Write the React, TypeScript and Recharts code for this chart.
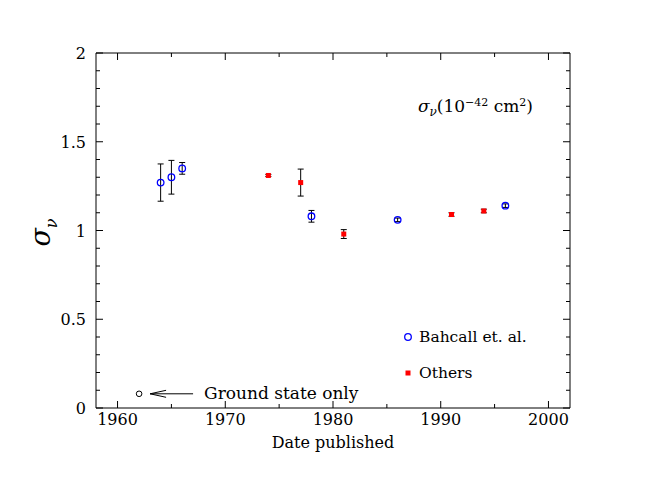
import React from 'react';
import {
  ScatterChart,
  Scatter,
  XAxis,
  YAxis,
  ErrorBar,
  Legend,
  Label,
} from 'recharts';

// Bahcall et al. (open circles)
const bahcallYears = [1964, 1965, 1966, 1978, 1986, 1996];
const bahcallSigma = [1.27, 1.3, 1.35, 1.08, 1.06, 1.14];
const bahcallErr = [0.105, 0.095, 0.033, 0.033, 0.01, 0.01];

// Others (filled squares)
const otherYears = [1974, 1977, 1981, 1991, 1994];
const otherSigma = [1.31, 1.27, 0.98, 1.09, 1.11];
const otherErr = [0.006, 0.076, 0.025, 0.01, 0.01];

// ground state only point
const groundYears = [1962];
const groundSigma = [0.08];

const xTicks = [1960, 1965, 1970, 1975, 1980, 1985, 1990, 1995, 2000];
const yTicks = [0, 0.1, 0.2, 0.3, 0.4, 0.5, 0.6, 0.7, 0.8, 0.9, 1, 1.1, 1.2, 1.3, 1.4, 1.5, 1.6, 1.7, 1.8, 1.9, 2];

const bahcall = bahcallYears.map((y, i) => ({ year: y, sigma: bahcallSigma[i], err: bahcallErr[i] }));
const others = otherYears.map((y, i) => ({ year: y, sigma: otherSigma[i], err: otherErr[i] }));
const ground = groundYears.map((y, i) => ({ year: y, sigma: groundSigma[i] }));

const FONT = '"DejaVu Serif", serif';

const isMajorX = (v: number) => v % 10 === 0;
const isMajorY = (v: number) => Math.abs(v * 2 - Math.round(v * 2)) < 1e-6;

const BottomTick = (props: any) => {
  const { x, y, payload } = props;
  const major = isMajorX(payload.value);
  return (
    <g>
      <line x1={x} y1={y} x2={x} y2={y - (major ? 7 : 4)} stroke="#000" />
      {major && (
        <text x={x} y={y + 17} textAnchor="middle" fontSize={16} fontFamily={FONT} fill="#000">
          {payload.value}
        </text>
      )}
    </g>
  );
};

const TopTick = (props: any) => {
  const { x, y, payload } = props;
  const major = isMajorX(payload.value);
  return <line x1={x} y1={y} x2={x} y2={y + (major ? 7 : 4)} stroke="#000" />;
};

const LeftTick = (props: any) => {
  const { x, y, payload } = props;
  const major = isMajorY(payload.value);
  return (
    <g>
      <line x1={x} y1={y} x2={x + (major ? 7 : 4)} y2={y} stroke="#000" />
      {major && (
        <text x={x - 10} y={y + 6} textAnchor="end" fontSize={16} fontFamily={FONT} fill="#000">
          {String(Math.round(payload.value * 10) / 10)}
        </text>
      )}
    </g>
  );
};

const RightTick = (props: any) => {
  const { x, y, payload } = props;
  const major = isMajorY(payload.value);
  return <line x1={x} y1={y} x2={x - (major ? 7 : 4)} y2={y} stroke="#000" />;
};

const OpenCircle = (props: any) => (
  <circle cx={props.cx} cy={props.cy} r={3.3} fill="none" stroke="#0000ff" strokeWidth={1.3} />
);

const RedSquare = (props: any) => (
  <rect x={props.cx - 2.5} y={props.cy - 2.5} width={5} height={5} fill="#ff0000" />
);

const NoShape = () => <g />;

const GroundMark = (props: any) => {
  const { cx, cy } = props;
  const tip = cx + 11;
  return (
    <g>
      <circle cx={cx} cy={cy} r={2.8} fill="none" stroke="#000" strokeWidth={1} />
      <line x1={tip} y1={cy} x2={cx + 54} y2={cy} stroke="#000" />
      <polyline points={`${tip + 16},${cy - 3.5} ${tip},${cy} ${tip + 16},${cy + 3.5}`} fill="none" stroke="#000" />
      <text x={cx + 65} y={cy + 5} fontSize={17} fontFamily={FONT} fill="#000">
        Ground state only
      </text>
    </g>
  );
};

const LegendBox = () => (
  <div style={{ fontFamily: FONT, fontSize: 15.5, color: '#000', textAlign: 'left' }}>
    <div style={{ display: 'flex', alignItems: 'center', height: 20 }}>
      <svg width={12} height={12} style={{ marginRight: 5 }}>
        <circle cx={6} cy={6} r={3.3} fill="none" stroke="#0000ff" strokeWidth={1.3} />
      </svg>
      <span>Bahcall et. al.</span>
    </div>
    <div style={{ display: 'flex', alignItems: 'center', height: 20, marginTop: 16 }}>
      <svg width={12} height={12} style={{ marginRight: 5 }}>
        <rect x={3.5} y={3.5} width={5} height={5} fill="#ff0000" />
      </svg>
      <span>Others</span>
    </div>
  </div>
);

export default function App() {
  return (
    <div style={{ width: 640, height: 477 }}>
      <ScatterChart width={640} height={477} margin={{ top: 44, right: 77, bottom: 0, left: 0 }}>
        <XAxis
          dataKey="year"
          type="number"
          domain={[1958, 2002]}
          ticks={xTicks}
          interval={0}
          tickSize={0}
          tickMargin={0}
          height={77}
          allowDataOverflow
          stroke="#000"
          tick={<BottomTick />}
        >
          <Label
            content={(p: any) => (
              <text
                x={p.viewBox.x + p.viewBox.width / 2}
                y={p.viewBox.y + 40}
                textAnchor="middle"
                fontSize={16}
                fontFamily={FONT}
                fill="#000"
              >
                Date published
              </text>
            )}
          />
        </XAxis>
        <XAxis
          xAxisId="top"
          dataKey="year"
          orientation="top"
          type="number"
          domain={[1958, 2002]}
          ticks={xTicks}
          interval={0}
          tickSize={0}
          tickMargin={0}
          height={1}
          allowDataOverflow
          stroke="#000"
          tick={<TopTick />}
        >
          <Label
            content={(p: any) => (
              <text
                x={p.viewBox.x + p.viewBox.width - 37}
                y={p.viewBox.y + 60}
                textAnchor="end"
                fontSize={17}
                fontFamily={FONT}
                fill="#000"
              >
                <tspan fontStyle="italic">σ</tspan>
                <tspan fontStyle="italic" fontSize={12} dy={4}>ν</tspan>
                <tspan dy={-4}>(10</tspan>
                <tspan fontSize={11} dy={-6}>−42</tspan>
                <tspan dy={6}> cm</tspan>
                <tspan fontSize={11} dy={-6}>2</tspan>
                <tspan dy={6}>)</tspan>
              </text>
            )}
          />
        </XAxis>
        <YAxis
          dataKey="sigma"
          type="number"
          domain={[0, 2]}
          ticks={yTicks}
          interval={0}
          tickSize={0}
          tickMargin={0}
          width={88}
          allowDataOverflow
          stroke="#000"
          tick={<LeftTick />}
        >
          <Label
            content={(p: any) => (
              <text
                transform={`translate(${p.viewBox.x + p.viewBox.width - 46}, ${p.viewBox.y + p.viewBox.height / 2 + 2}) rotate(-90)`}
                textAnchor="middle"
                fontSize={27}
                fontStyle="italic"
                fontFamily={FONT}
                fill="#000"
              >
                σ<tspan fontSize={16} dy={7}>ν</tspan>
              </text>
            )}
          />
        </YAxis>
        <YAxis
          yAxisId="right"
          dataKey="sigma"
          orientation="right"
          type="number"
          domain={[0, 2]}
          ticks={yTicks}
          interval={0}
          tickSize={0}
          tickMargin={0}
          width={1}
          allowDataOverflow
          stroke="#000"
          tick={<RightTick />}
        />
        <Legend
          layout="vertical"
          align="center"
          verticalAlign="middle"
          wrapperStyle={{ left: 394, top: 319, width: 180 }}
          content={<LegendBox />}
        />
        <Scatter name="Bahcall et al." data={bahcall} shape={<OpenCircle />} isAnimationActive={false} />
        <Scatter name="Others" data={others} shape={<RedSquare />} isAnimationActive={false} />
        <Scatter data={[...bahcall, ...others]} shape={<NoShape />} legendType="none" isAnimationActive={false}>
          <ErrorBar dataKey="err" direction="y" width={3} stroke="#000" strokeWidth={1} />
        </Scatter>
        <Scatter data={ground} shape={<GroundMark />} legendType="none" isAnimationActive={false} />
        <Scatter
          xAxisId="top"
          yAxisId="right"
          data={ground}
          shape={<NoShape />}
          legendType="none"
          isAnimationActive={false}
        />
      </ScatterChart>
    </div>
  );
}
